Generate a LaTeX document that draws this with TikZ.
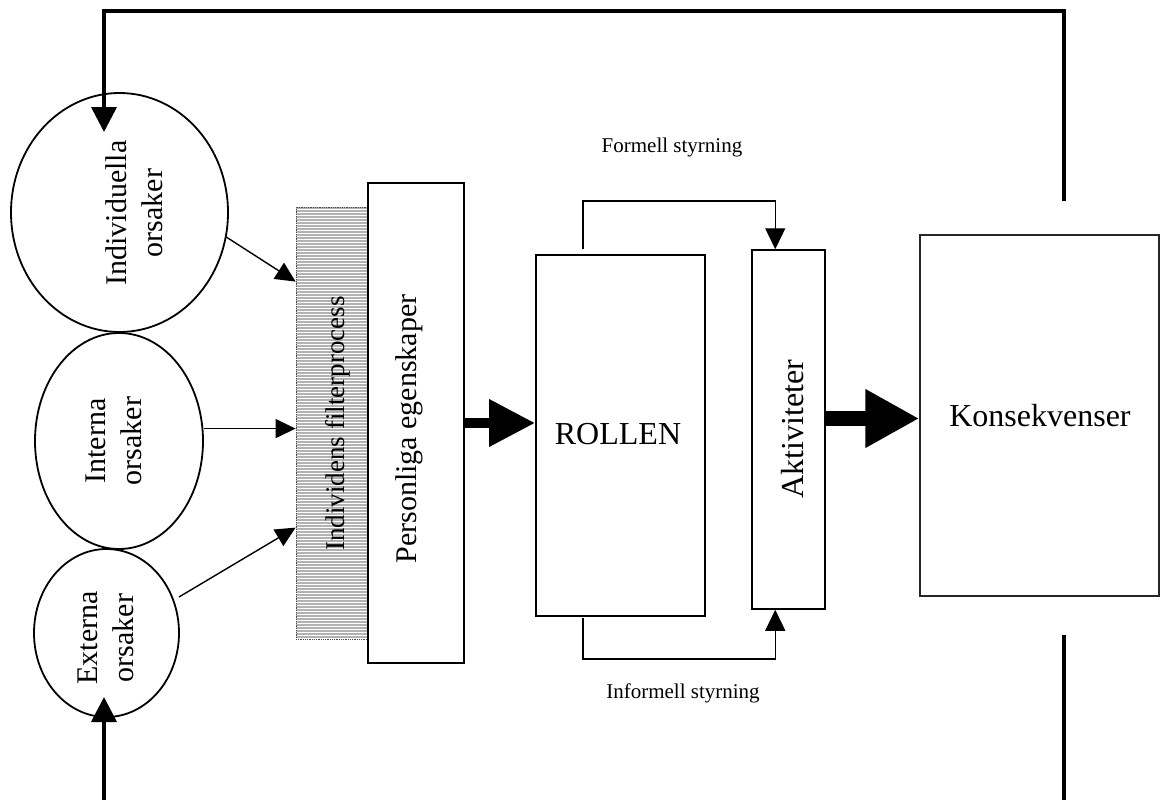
\documentclass[tikz,border=0pt]{standalone}
\usepackage{fontspec}
\setmainfont{Liberation Serif}
\usetikzlibrary{shapes.geometric,arrows.meta,calc}

\begin{document}
\begin{tikzpicture}[x=1pt,y=-1pt,
  causeshape/.style={ellipse, draw, line width=1.8pt, inner sep=0pt},
  causetext/.style={rotate=90, align=center, inner sep=0pt, font=\fontsize{30}{36}\selectfont},
  stagebox/.style={rectangle, draw, line width=1.5pt, inner sep=0pt},
  plaintext/.style={inner sep=0pt},
  thinarrow/.style={line width=1.4pt, -{Triangle[length=20pt,width=19pt]}},
  steerarrow/.style={line width=1.4pt, -{Triangle[length=21pt,width=20pt]}},
  feedback/.style={line width=3.7pt},
  feedbacktip/.style={-{Triangle[length=25pt,width=25pt]}},
]
\useasboundingbox (0,0) rectangle (1160,800);

% causes
\node[causeshape, minimum width=217pt, minimum height=239pt] (ind) at (119.5,212.5) {};
\node[causeshape, minimum width=168pt, minimum height=216pt] (int) at (119,441) {};
\node[causeshape, minimum width=145pt, minimum height=168pt] (ext) at (106.5,633) {};
\node[causetext] (indT) at (134,213) {Individuella\\orsaker};
\node[causetext] (intT) at (114,441) {Interna\\orsaker};
\node[causetext] (extT) at (105.5,638) {Externa\\orsaker};

% striped filter layer
\foreach \k in {0,...,143}
  \fill[black!30] (296,{207+3*\k}) rectangle (368,{209+3*\k});
\node[draw=black!70, densely dotted, line width=0.8pt, minimum width=72pt,
      minimum height=432pt, inner sep=0pt] (filt) at (332,423) {};
\node[plaintext, rotate=90, font=\fontsize{27}{32}\selectfont] (filtT) at (338,423.5) {Individens filterprocess};

% personal traits
\node[stagebox, fill=white, minimum width=96pt, minimum height=480pt] (pers) at (416,423) {};
\node[plaintext, rotate=90, font=\fontsize{30}{36}\selectfont] (persT) at (409.5,429) {Personliga egenskaper};

% role, activities, consequences
\node[stagebox, line width=1.8pt, minimum width=169pt, minimum height=361pt] (rol) at (620.5,435.5) {};
\node[plaintext, font=\fontsize{32}{38}\selectfont] (rolT) at (618,434) {ROLLEN};
\node[stagebox, minimum width=73pt, minimum height=359pt] (akt) at (788.5,429.5) {};
\node[plaintext, rotate=90, font=\fontsize{32}{38}\selectfont] (aktT) at (792.5,429) {Aktiviteter};
\node[stagebox, draw=black!85, minimum width=239pt, minimum height=361pt] (kons) at (1039.5,415.5) {};
\node[plaintext, font=\fontsize{32}{38}\selectfont] (konsT) at (1040,416) {Konsekvenser};

% steering labels
\node[plaintext, font=\fontsize{21}{25}\selectfont] (form) at (672,147) {Formell styrning};
\node[plaintext, font=\fontsize{21}{25}\selectfont] (inform) at (683,693) {Informell styrning};

% causes into the filter
\coordinate (filtA) at ($(filt.north west)+(0,75)$);
\coordinate (filtB) at ($(filt.north west)+(0,222)$);
\coordinate (filtC) at ($(filt.north west)+(0,321)$);
\draw[thinarrow] (ind.-13.3) -- (filtA);
\draw[thinarrow] (filtB -| int.east) -- (filtB);
\draw[thinarrow] ($(ext.center)+(72.5,-36)$) -- (filtC);

% main flow
\draw[line width=10pt, -{Triangle[length=46pt,width=45pt]}] (pers.east) -- (pers.east -| rol.west);
\coordinate (aktOut) at ($(akt.east)+(0,-11)$);
\draw[line width=15pt, -{Triangle[length=54pt,width=55pt]}] (aktOut) -- (aktOut -| kons.west);

% formal and informal steering
\draw[steerarrow] ($(rol.north west)+(48,-5)$) -- ++(0,-48) -| ($(akt.north west)+(24,0)$);
\draw[steerarrow] ($(rol.south west)+(48,1)$) -- ++(0,41) -| ($(akt.south west)+(24,0)$);

% feedback loop
\coordinate (fbTopStart) at ($(kons.north)+(24.5,-33)$);
\coordinate (fbTopLeft) at (104,11);
\coordinate (indIn) at (104,132);
\draw[feedback, feedbacktip] (fbTopStart) |- (fbTopLeft) -- (indIn);
\coordinate (fbBotStart) at ($(kons.south)+(24.5,38)$);
\coordinate (fbBotRight) at (1064,800);
\coordinate (fbBotLeft) at (104,800);
\coordinate (extIn) at (104,697);
\draw[feedback] (fbBotStart) -- (fbBotRight);
\draw[feedback, feedbacktip] (fbBotLeft) -- (extIn);
\end{tikzpicture}
\end{document}
